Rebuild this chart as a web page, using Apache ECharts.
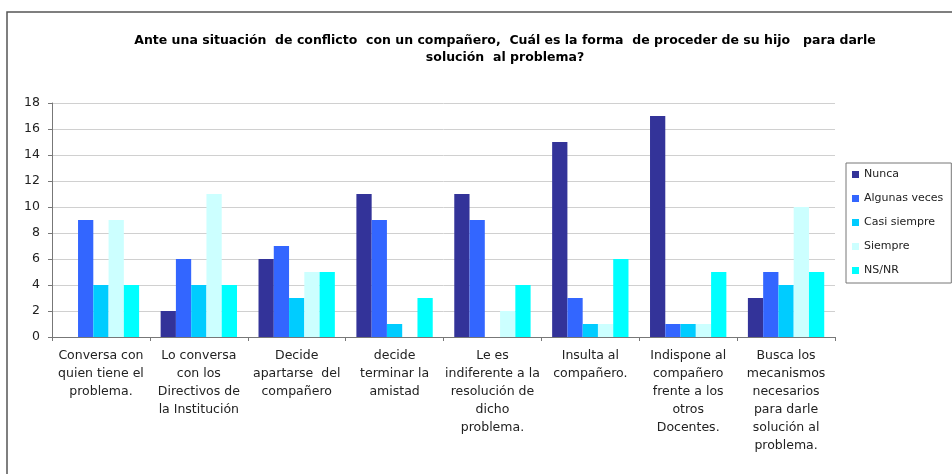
<!DOCTYPE html>
<html>
<head>
<meta charset="utf-8">
<script src="https://cdn.jsdelivr.net/npm/echarts@6/dist/echarts.min.js"></script>
<style>
html, body { margin: 0; padding: 0; background: #fff; }
#chartDiv { width: 952px; height: 474px; }
</style>
</head>
<body>
<div id="chartDiv"></div>
<script>
// 初始化图表
let myChart = echarts.init(document.getElementById('chartDiv'));
window.onresize = myChart.resize;

// 数据
let categories = [
    'Conversa con\nquien tiene el\nproblema.',
    'Lo conversa\ncon los\nDirectivos de\nla Institución',
    'Decide\napartarse  del\ncompañero',
    'decide\nterminar la\namistad',
    'Le es\nindiferente a la\nresolución de\ndicho\nproblema.',
    'Insulta al\ncompañero.',
    'Indispone al\ncompañero\nfrente a los\notros\nDocentes.',
    'Busca los\nmecanismos\nnecesarios\npara darle\nsolución al\nproblema.'
];
let nunca        = [0, 2, 6, 11, 11, 15, 17, 3];
let algunasVeces = [9, 6, 7, 9, 9, 3, 1, 5];
let casiSiempre  = [4, 4, 3, 1, 0, 1, 1, 4];
let siempre      = [9, 11, 5, 0, 2, 1, 1, 10];
let nsnr         = [4, 4, 5, 3, 4, 6, 5, 5];

let seriesNames = ['Nunca', 'Algunas veces', 'Casi siempre', 'Siempre', 'NS/NR'];
let seriesData = [nunca, algunasVeces, casiSiempre, siempre, nsnr];
let colors = ['#333399', '#3366ff', '#00ccff', '#ccffff', '#00ffff'];

let series = [];
for (let i = 0; i < seriesNames.length; i++) {
    series.push({
        name: seriesNames[i],
        type: 'bar',
        data: seriesData[i],
        barGap: '0%',
        barCategoryGap: '22%',
        itemStyle: { color: colors[i] }
    });
}

// 图表设置
let option = {
    backgroundColor: '#fff',
    animation: false,
    color: colors,
    title: {
        text: 'Ante una situación  de conflicto  con un compañero,  Cuál es la forma  de proceder de su hijo   para darle\nsolución  al problema?',
        left: 500,
        top: 27,
        textAlign: 'center',
        textStyle: {
            fontFamily: 'DejaVu Sans',
            fontSize: 12.5,
            fontWeight: 'bold',
            color: '#000',
            lineHeight: 17
        }
    },
    graphic: [
        {
            type: 'polyline',
            shape: { points: [[7, 474], [7, 12], [952, 12]] },
            style: { stroke: '#555', lineWidth: 1.5, fill: null }
        }
    ],
    legend: {
        orient: 'vertical',
        left: 846,
        top: 163,
        width: 100,
        padding: [5, 8, 6, 6],
        itemWidth: 7,
        itemHeight: 7,
        itemGap: 11,
        borderColor: '#777',
        borderWidth: 1,
        icon: 'rect',
        textStyle: {
            fontFamily: 'DejaVu Sans',
            fontSize: 11,
            color: '#222',
            lineHeight: 13
        },
        data: seriesNames
    },
    grid: {
        left: 52,
        right: 117,
        top: 103,
        bottom: 137,
        containLabel: false
    },
    xAxis: {
        type: 'category',
        data: categories,
        axisLine: { lineStyle: { color: '#777', width: 1 } },
        axisTick: { show: true, alignWithLabel: false, length: 4, lineStyle: { color: '#777' } },
        axisLabel: {
            interval: 0,
            margin: 10,
            fontFamily: 'DejaVu Sans',
            fontSize: 12.5,
            lineHeight: 18,
            color: '#222'
        }
    },
    yAxis: {
        type: 'value',
        min: 0,
        max: 18,
        interval: 2,
        axisLine: { show: true, lineStyle: { color: '#777', width: 1 } },
        axisTick: { show: true, length: 4, lineStyle: { color: '#777' } },
        axisLabel: {
            margin: 12,
            fontFamily: 'DejaVu Sans',
            fontSize: 12.5,
            color: '#222'
        },
        splitLine: { lineStyle: { color: '#d0d0d0', width: 1 } }
    },
    series: series
};
myChart.setOption(option);
</script>
</body>
</html>
